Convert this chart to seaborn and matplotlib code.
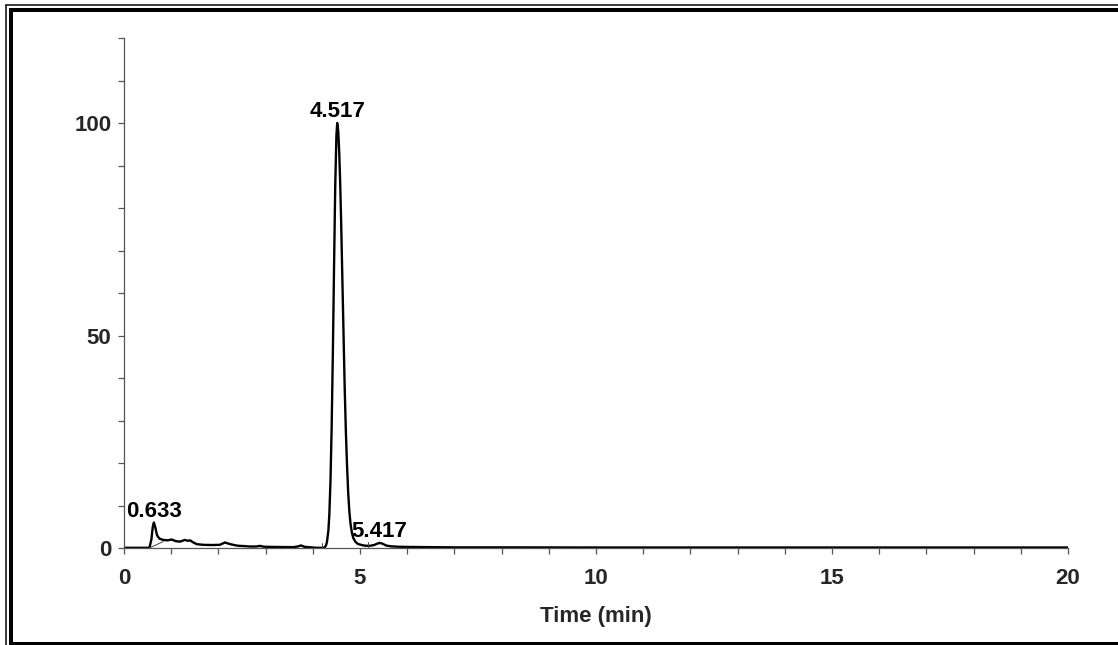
import matplotlib
matplotlib.use("Agg")
import matplotlib.pyplot as plt
from matplotlib.lines import Line2D
from matplotlib.ticker import MultipleLocator
import numpy as np
import pandas as pd
import seaborn as sns

# Chromatogram trace: retention time (min) and relative response (%)
times = [0.0, 0.3, 0.5, 0.54, 0.58, 0.61, 0.633, 0.66, 0.70, 0.75, 0.83, 0.92,
         1.01, 1.10, 1.19, 1.29, 1.35, 1.40, 1.47, 1.54, 1.68, 1.85, 2.03, 2.14,
         2.25, 2.40, 2.67, 2.80, 2.88, 2.96, 3.16, 3.59, 3.68, 3.75, 3.82, 3.90,
         4.08, 4.20, 4.25, 4.28, 4.30, 4.33, 4.35, 4.375, 4.40, 4.425, 4.45,
         4.475, 4.50, 4.517, 4.54, 4.56, 4.58, 4.60, 4.625, 4.65, 4.675, 4.70,
         4.725, 4.75, 4.775, 4.80, 4.83, 4.86, 4.90, 4.95, 5.00, 5.10, 5.20,
         5.30, 5.36, 5.417, 5.48, 5.55, 5.65, 5.80, 6.00, 6.50, 7.00, 8.0, 10.0,
         15.0, 20.0]
signal = [0.05, 0.05, 0.05, 0.1, 2.0, 5.0, 6.0, 5.0, 3.0, 2.2, 1.9, 1.8,
          2.0, 1.6, 1.5, 1.9, 1.7, 1.8, 1.3, 0.9, 0.75, 0.7, 0.75, 1.3,
          0.9, 0.55, 0.35, 0.35, 0.5, 0.3, 0.25, 0.2, 0.35, 0.6, 0.3, 0.2,
          0.05, 0.05, 0.15, 0.6, 1.4, 4.1, 7.8, 15.9, 28.7, 46.0, 66.0,
          85.0, 97.0, 100.0, 98.0, 93.0, 86.0, 77.0, 64.0, 51.0, 38.0, 27.6,
          19.5, 13.0, 8.5, 5.6, 3.5, 2.3, 1.5, 1.0, 0.8, 0.55, 0.5,
          0.7, 1.0, 1.2, 1.0, 0.6, 0.4, 0.3, 0.25, 0.2, 0.15, 0.15, 0.12,
          0.12, 0.12]

# Labelled peaks (retention times) and their heights
peak_times = [0.633, 4.517, 5.417]
peak_heights = [6.0, 100.0, 1.2]

# Integration baseline and peak start/end markers: (t0, y0, t1, y1)
integration_marks = [
    (0.536, 0.0, 0.83, 1.5),
    (4.19, 0.0, 4.19, 1.2),
    (5.17, 0.2, 5.17, 1.4),
]

x_ticks = [0, 5, 10, 15, 20]
y_ticks = [0, 50, 100]

sns.set_theme(style="white")
plt.rcParams["font.family"] = ["Liberation Sans", "DejaVu Sans"]
plt.rcParams["font.weight"] = "bold"

W, H, DPI = 1118, 645, 100
fig = plt.figure(figsize=(W / DPI, H / DPI), dpi=DPI, facecolor="white")
ax = fig.add_axes([124 / W, 1 - 548 / H, (1068 - 124) / W, (548 - 38) / H])
ax.set_facecolor("white")

df = pd.DataFrame({"Time (min)": times, "Signal": signal})
sns.lineplot(data=df, x="Time (min)", y="Signal", ax=ax, color="black",
             linewidth=1.7, estimator=None, sort=True)

for t0, y0, t1, y1 in integration_marks:
    ax.plot([t0, t1], [y0, y1], color="#444444", linewidth=0.7)

for t, h in zip(peak_times, peak_heights):
    ax.annotate(f"{t:.3f}", xy=(t, h), xytext=(0, 4), textcoords="offset points",
                ha="center", va="baseline", fontsize=16, fontweight="bold",
                color="black")

ax.set_xlim(0, 20)
ax.set_ylim(0, 120)
ax.set_xticks(x_ticks)
ax.set_yticks(y_ticks)
ax.xaxis.set_minor_locator(MultipleLocator(1))
ax.yaxis.set_minor_locator(MultipleLocator(10))
ax.tick_params(axis="both", which="both", direction="out", length=4.5,
               width=0.9, color="#555555", labelsize=16,
               bottom=True, left=True, top=False, right=False)
ax.tick_params(axis="x", which="major", pad=10)
ax.tick_params(axis="y", which="major", pad=4.5)
for lbl in ax.get_xticklabels() + ax.get_yticklabels():
    lbl.set_fontweight("bold")

ax.set_xlabel("Time (min)", fontsize=16, fontweight="bold", labelpad=12)
ax.set_ylabel("")

for side in ("top", "right"):
    ax.spines[side].set_visible(False)
for side in ("left", "bottom"):
    ax.spines[side].set_color("#555555")
    ax.spines[side].set_linewidth(0.9)

# Double frame around the figure (thin outer, thick inner)
def fx(px):
    return px / W

def fy(py):
    return 1 - py / H

thin = 1.5 * 72 / DPI
thick = 4.0 * 72 / DPI
fig.add_artist(Line2D([fx(5.8), fx(5.8)], [fy(4.7), fy(H + 5)], color="black", linewidth=thin))
fig.add_artist(Line2D([fx(5.8), fx(W + 5)], [fy(4.7), fy(4.7)], color="black", linewidth=thin))
fig.add_artist(Line2D([fx(11.3), fx(11.3)], [fy(10.3), fy(H + 5)], color="black", linewidth=thick, solid_capstyle="projecting"))
fig.add_artist(Line2D([fx(11.3), fx(W + 5)], [fy(10.3), fy(10.3)], color="black", linewidth=thick, solid_capstyle="projecting"))
fig.add_artist(Line2D([fx(11.3), fx(W + 5)], [fy(643.5), fy(643.5)], color="black", linewidth=thick, solid_capstyle="projecting"))

fig.savefig("out.png", dpi=DPI, facecolor="white")
